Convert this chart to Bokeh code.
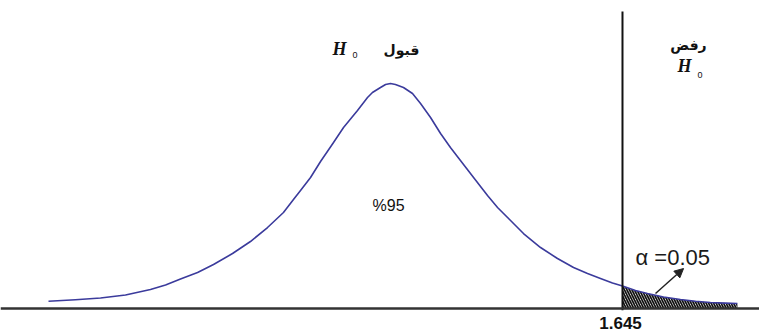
from bokeh.plotting import figure
from bokeh.models import Range1d, Span, Arrow, NormalHead
from bokeh.core.properties import value
from bokeh.embed import file_html
from bokeh.resources import INLINE

# Curve (z value, density)
z_vals = [-2.425, -2.234, -2.056, -1.879, -1.702, -1.595, -1.489, -1.368, -1.255, -1.120,
          -0.993, -0.872, -0.759, -0.688, -0.638, -0.567, -0.496, -0.404, -0.333, -0.234,
          -0.163, -0.128, -0.071, -0.035, 0.0, 0.035, 0.092, 0.156, 0.213, 0.284,
          0.355, 0.425, 0.496, 0.589, 0.688, 0.759, 0.830, 0.943, 1.064, 1.184,
          1.298, 1.397, 1.489, 1.574, 1.645, 1.737, 1.822, 1.936, 2.056, 2.163,
          2.269, 2.375, 2.460]
density = [0.0130, 0.0155, 0.0187, 0.0240, 0.0338, 0.0418, 0.0524, 0.0640, 0.0782, 0.0978,
           0.1191, 0.1440, 0.1707, 0.1938, 0.2098, 0.2329, 0.2613, 0.2951, 0.3218, 0.3520,
           0.3751, 0.3840, 0.3929, 0.3982, 0.4000, 0.3982, 0.3929, 0.3822, 0.3644, 0.3396,
           0.3111, 0.2862, 0.2631, 0.2329, 0.2009, 0.1796, 0.1618, 0.1333, 0.1084, 0.0889,
           0.0729, 0.0622, 0.0533, 0.0453, 0.0400, 0.0320, 0.0267, 0.0204, 0.0160, 0.0128,
           0.0107, 0.0096, 0.0089]
critical = 1.645
alpha_label = "α =0.05"
crit_label = "1.645"
accept_label = "قبول"
reject_label = "رفض"
pct_label = "%95"

p = figure(width=759, height=334, x_range=Range1d(-2.7654, 2.6165),
           y_range=Range1d(-0.0462, 0.5476), output_backend="svg",
           toolbar_location=None, x_axis_location=None, y_axis_location=None,
           min_border=0, outline_line_color=None)
p.grid.visible = False

# hatched rejection tail
tail_x = [z for z in z_vals if z >= critical]
tail_y = [d for z, d in zip(z_vals, density) if z >= critical]
hx = tail_x + [tail_x[-1], critical]
hy = tail_y + [0.0, 0.0]
p.patch(hx, hy, fill_alpha=0, line_color=None, hatch_pattern="\\",
        hatch_color="#111111", hatch_scale=5, hatch_weight=1.7)

# curve
p.line(z_vals, density, line_color="#3b3b9c", line_width=1.6, line_join="round")

# baseline
p.add_layout(Span(location=0, dimension="width", line_color="#333333", line_width=2.5))
# critical vertical line
p.segment(x0=[critical], y0=[-0.003], x1=[critical], y1=[0.528], line_color="#111111", line_width=2)

# arrow
p.add_layout(Arrow(end=NormalHead(size=9, fill_color="#222222", line_color="#222222"),
                   x_start=1.879, y_start=0.0267, x_end=2.078, y_end=0.0711,
                   line_color="#222222", line_width=1.5))

def txt(x, y, s, size, font="Liberation Sans", style="normal", align="left",
        baseline="middle", color="#111111"):
    p.text(x=[x], y=[y], text=[s], text_font=value(font), text_font_size=f"{size}px",
           text_font_style=style, text_align=align, text_baseline=baseline,
           text_color=color)

txt(-0.411, 0.462, "H", 18, font="Liberation Serif", style="bold italic")
txt(-0.269, 0.450, "0", 9)
txt(0.078, 0.459, accept_label, 14, font="DejaVu Sans", style="bold", align="center")
txt(2.113, 0.4676, reject_label, 14, font="DejaVu Sans", style="bold", align="center")
txt(2.035, 0.432, "H", 18, font="Liberation Serif", style="bold italic")
txt(2.177, 0.416, "0", 9)
txt(-0.014, 0.183, pct_label, 16, align="center")
txt(1.737, 0.0907, alpha_label, 22, baseline="alphabetic", color="#1a1a1a")
txt(1.631, -0.0249, crit_label, 17, style="bold", align="center", baseline="alphabetic")

open("out.html", "w").write(file_html(p, INLINE))
